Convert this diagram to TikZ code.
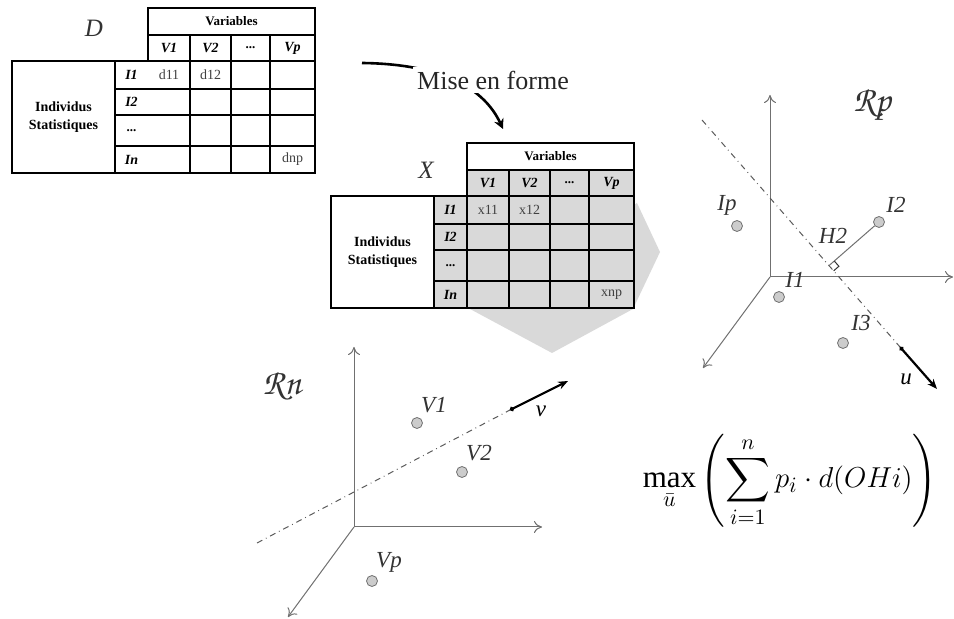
\documentclass[tikz,border=0pt]{standalone}
\usepackage{amsmath,amssymb}
\usepackage{fontspec}
\setmainfont{Liberation Serif}
\usetikzlibrary{arrows.meta,positioning,calc}
\definecolor{axg}{HTML}{707070}
\definecolor{cellg}{HTML}{D9D9D9}
\definecolor{dotg}{HTML}{CCCCCC}
\definecolor{labg}{HTML}{333333}
\newcommand\chanc[1]{{\usefont{OT1}{pzc}{mb}{it}#1}}
\tikzset{
  tabrule/.style={line width=0.7pt},
  axis/.style={-{To[length=4pt,width=6pt]}, line width=0.5pt, axg},
  proj/.style={dash dot, line width=0.5pt, axg!80!black},
  vec/.style={{Circle[length=2.2pt]}-{Stealth[length=5pt,width=4pt]}, line width=1.1pt},
  pt/.style={circle, draw=axg, fill=dotg, line width=0.4pt, inner sep=0pt, minimum size=5.5pt},
  plab/.style={font=\fontsize{11.5}{12}\selectfont\itshape, labg, inner sep=0pt},
  hd/.style={font=\fontsize{6.5}{7}\selectfont\bfseries, inner sep=0pt},
  ix/.style={font=\fontsize{7}{8}\selectfont\bfseries\itshape, inner sep=0pt},
  cell/.style={font=\fontsize{7}{8}\selectfont, black!75, inner sep=0pt},
  tname/.style={font=\fontsize{12.5}{13}\selectfont\itshape, black!80, inner sep=0pt},
  spc/.style={font=\fontsize{18}{19}\selectfont, labg, inner sep=0pt},
}

\begin{document}
\begin{tikzpicture}[x=0.5pt,y=-0.5pt]
\useasboundingbox (0,0) rectangle (954,619);

% ============ table D (raw data) ============================================
\node[tname] (Dname) at (94,28) {D};
\begin{scope}[shift={(148,8)}]
  \draw[tabrule] (0,0) rectangle (167,53);
  \draw[tabrule] (0,27) -- (167,27);
  \foreach \cx in {42,83,122} \draw[tabrule] (\cx,27) -- (\cx,165);
  \draw[tabrule] (-136,53) rectangle (167,165);
  \draw[tabrule] (-33,53) -- (-33,165);
  \foreach \ry in {81,107,138} \draw[tabrule] (-33,\ry) -- (167,\ry);
  \node[hd] (Dvar) at (83.5,13.5) {Variables};
  \node[ix] (Dv1) at (21,40) {V1};
  \node[ix] (Dv2) at (62.5,40) {V2};
  \node[hd] (Dvd) at (102.5,40) {...};
  \node[ix] (Dvp) at (144.5,40) {Vp};
  \node[ix] (Di1) at (-16.5,67) {I1};
  \node[ix] (Di2) at (-16.5,94) {I2};
  \node[hd] (Did) at (-16.5,123) {...};
  \node[ix] (Din) at (-16.5,151.5) {In};
  \node[hd, font=\fontsize{7}{8}\selectfont\bfseries, align=center] (Dind) at (-84.5,109) {Individus\\[1pt]Statistiques};
  \node[cell] (Dd11) at (21,67) {d11};
  \node[cell] (Dd12) at (62.5,67) {d12};
  \node[cell] (Ddnp) at (144.5,151.5) {dnp};
\end{scope}

% ============ "mise en forme" step ==========================================
\coordinate (mfa) at (362,63);
\coordinate (mfb) at (503,129);
\draw[line width=1.3pt, -{Stealth[length=5pt,width=5pt]}]
  (mfa) .. controls (445,64) and (485,90) .. (mfb);
\node[font=\fontsize{13}{14}\selectfont, fill=white, inner sep=2pt, text=black!85] (mef) at (493,80) {Mise en forme};

% ============ table X (formatted data) ======================================
\fill[cellg] (637,203) -- (660,252) -- (633,309) -- (552,353) -- (470,309) -- cycle;
\node[tname] (Xname) at (426,170) {X};
\begin{scope}[shift={(467,143)}]
  \fill[cellg] (0,27) rectangle (167,165);
  \fill[cellg] (-33,53) rectangle (0,165);
  \draw[tabrule] (0,0) rectangle (167,53);
  \draw[tabrule] (0,27) -- (167,27);
  \foreach \cx in {42,83,122} \draw[tabrule] (\cx,27) -- (\cx,165);
  \draw[tabrule] (-136,53) rectangle (167,165);
  \draw[tabrule] (-33,53) -- (-33,165);
  \draw[tabrule] (0,53) -- (0,165);
  \foreach \ry in {81,107,138} \draw[tabrule] (-33,\ry) -- (167,\ry);
  \node[hd] (Xvar) at (83.5,13.5) {Variables};
  \node[ix] (Xv1) at (21,40) {V1};
  \node[ix] (Xv2) at (62.5,40) {V2};
  \node[hd] (Xvd) at (102.5,40) {...};
  \node[ix] (Xvp) at (144.5,40) {Vp};
  \node[ix] (Xi1) at (-16.5,67) {I1};
  \node[ix] (Xi2) at (-16.5,94) {I2};
  \node[hd] (Xid) at (-16.5,123) {...};
  \node[ix] (Xin) at (-16.5,151.5) {In};
  \node[hd, font=\fontsize{7}{8}\selectfont\bfseries, align=center] (Xind) at (-84.5,109) {Individus\\[1pt]Statistiques};
  \node[cell] (Xx11) at (21,67) {x11};
  \node[cell] (Xx12) at (62.5,67) {x12};
  \node[cell] (Xxnp) at (144.5,151.5) {xnp};
\end{scope}

% ============ space of individuals Rp =======================================
\coordinate (Op) at (770,277);
\coordinate (Opz) at (770,95);
\coordinate (Opx) at (953,277);
\coordinate (Opy) at (703,368);
\draw[axis] (Op) -- (Opz);
\draw[axis] (Op) -- (Opx);
\draw[axis] (Op) -- (Opy);
\node[spc] (Rp) at (872,106) {\chanc{Rp}};
\coordinate (ua) at (702,120);
\coordinate (ub) at (900,347);
\coordinate (uc) at (937,389);
\draw[proj] (ua) -- (ub);
\draw[vec] (ub) -- (uc);
\node[plab, black] (ulab) at (906,379) {u};
\node[pt] (pIp) at (737,226) {};
\node[plab] (lIp) at (727,205) {Ip};
\node[pt] (pI2) at (879,222) {};
\node[plab] (lI2) at (896,205) {I2};
\node[pt] (pI1) at (779,297) {};
\node[plab] (lI1) at (795,280) {I1};
\node[pt] (pI3) at (843,343) {};
\node[plab] (lI3) at (861,323) {I3};
\coordinate (H2) at ($(ua)!(pI2)!(ub)$);
\draw[axg, line width=0.5pt] (pI2) -- (H2);
\coordinate (sqa) at ($(H2)!3.5pt!(pI2)$);
\coordinate (sqb) at ($(H2)!3.5pt!(ub)$);
\draw[labg, line width=0.5pt] (sqa) -- ($(sqa)+(sqb)-(H2)$) -- (sqb);
\node[plab] (lH2) at (833,236) {H2};

% ============ space of variables Rn =========================================
\coordinate (On) at (354,527);
\coordinate (Onz) at (354,347);
\coordinate (Onx) at (542,527);
\coordinate (Ony) at (288,617);
\draw[axis] (On) -- (Onz);
\draw[axis] (On) -- (Onx);
\draw[axis] (On) -- (Ony);
\node[spc] (Rn) at (282,386) {\chanc{Rn}};
\coordinate (va) at (257,543);
\coordinate (vb) at (510,410);
\coordinate (vc) at (568,381);
\draw[proj] (va) -- (vb);
\draw[vec] (vb) -- (vc);
\node[plab, black] (vlab) at (541,411) {v};
\node[pt] (pV1) at (417,423) {};
\node[plab] (lV1) at (434,405) {V1};
\node[pt] (pV2) at (462,472) {};
\node[plab] (lV2) at (479,453) {V2};
\node[pt] (pVp) at (372,581) {};
\node[plab] (lVp) at (389,562) {Vp};

% ============ criterion =====================================================
\node[inner sep=0pt, font=\fontsize{15.5}{18}\selectfont] (crit) at (790,481)
  {$\displaystyle\max_{\bar u}\left(\sum_{i=1}^{n}p_i\cdot d(OHi)\right)$};

\end{tikzpicture}
\end{document}
